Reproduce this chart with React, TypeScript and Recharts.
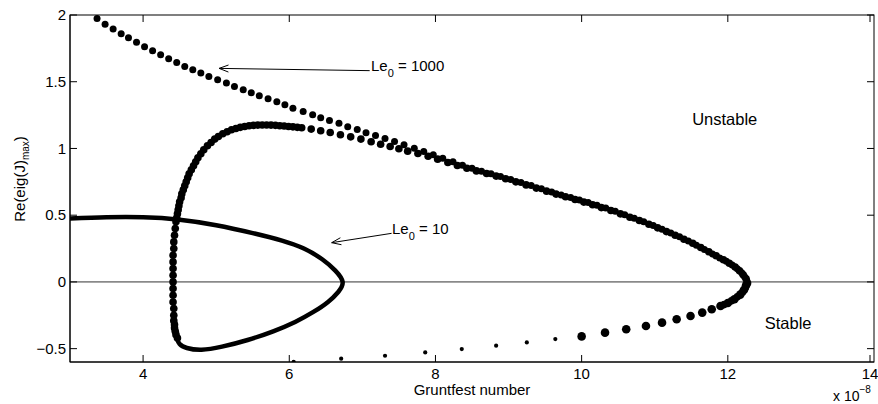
import React from 'react';
import { ComposedChart, Scatter, Line, XAxis, YAxis, ReferenceLine } from 'recharts';

const FONT = '"Liberation Sans", Arial, Helvetica, sans-serif';

// axis ticks (Gruntfest number is in units of 1e-8)
const xTicks = [4, 6, 8, 10, 12, 14];
const yTicks = [-0.5, 0, 0.5, 1, 1.5, 2];

// Le0 = 10, drawn as a solid curve
const le10Curve = [
  { x: 3.0, y: 0.475 }, { x: 3.5, y: 0.484 }, { x: 4.0, y: 0.484 }, { x: 4.5, y: 0.466 },
  { x: 5.0, y: 0.425 }, { x: 5.5, y: 0.366 }, { x: 5.9, y: 0.31 }, { x: 6.2, y: 0.25 },
  { x: 6.45, y: 0.17 }, { x: 6.63, y: 0.085 }, { x: 6.73, y: 0 }, { x: 6.67, y: -0.075 },
  { x: 6.53, y: -0.15 }, { x: 6.33, y: -0.225 }, { x: 6.08, y: -0.3 }, { x: 5.78, y: -0.37 },
  { x: 5.43, y: -0.435 }, { x: 5.08, y: -0.485 }, { x: 4.8, y: -0.508 }, { x: 4.6, y: -0.495 },
  { x: 4.5, y: -0.465 }, { x: 4.46, y: -0.42 },
];

// Le0 = 1000, upper branch (to the turning point)
const le1000Upper = [
  { x: 3.37, y: 1.973 }, { x: 3.48, y: 1.93 }, { x: 3.59, y: 1.895 }, { x: 3.7, y: 1.86 },
  { x: 3.8, y: 1.83 }, { x: 3.91, y: 1.795 }, { x: 4.02, y: 1.763 }, { x: 4.13, y: 1.733 },
  { x: 4.24, y: 1.703 }, { x: 4.35, y: 1.673 }, { x: 4.46, y: 1.645 }, { x: 4.57, y: 1.615 },
  { x: 4.68, y: 1.59 }, { x: 4.79, y: 1.565 }, { x: 4.9, y: 1.54 }, { x: 5.02, y: 1.515 },
  { x: 5.14, y: 1.49 }, { x: 5.25, y: 1.465 }, { x: 5.37, y: 1.44 }, { x: 5.48, y: 1.418 },
  { x: 5.59, y: 1.395 }, { x: 5.71, y: 1.373 }, { x: 5.83, y: 1.35 }, { x: 5.94, y: 1.328 },
  { x: 6.05, y: 1.302 }, { x: 6.19, y: 1.277 }, { x: 6.32, y: 1.253 }, { x: 6.43, y: 1.23 },
  { x: 6.55, y: 1.21 }, { x: 6.68, y: 1.188 }, { x: 6.8, y: 1.163 }, { x: 6.93, y: 1.143 },
  { x: 7.05, y: 1.118 }, { x: 7.18, y: 1.098 }, { x: 7.31, y: 1.075 }, { x: 7.44, y: 1.052 },
  { x: 7.57, y: 1.028 }, { x: 7.71, y: 1.002 }, { x: 7.84, y: 0.977 }, { x: 7.97, y: 0.953 },
  { x: 8.1, y: 0.927 }, { x: 8.24, y: 0.9 }, { x: 8.37, y: 0.875 }, { x: 8.5, y: 0.852 },
  { x: 8.63, y: 0.83 }, { x: 8.76, y: 0.81 }, { x: 8.89, y: 0.79 }, { x: 9.03, y: 0.768 },
  { x: 9.17, y: 0.745 }, { x: 9.31, y: 0.722 }, { x: 9.45, y: 0.698 }, { x: 9.59, y: 0.673 },
  { x: 9.72, y: 0.652 }, { x: 9.85, y: 0.632 }, { x: 9.97, y: 0.613 }, { x: 10.09, y: 0.595 },
  { x: 10.21, y: 0.575 }, { x: 10.33, y: 0.553 }, { x: 10.46, y: 0.53 }, { x: 10.59, y: 0.503 },
  { x: 10.72, y: 0.477 }, { x: 10.85, y: 0.45 }, { x: 10.98, y: 0.422 }, { x: 11.1, y: 0.395 },
  { x: 11.22, y: 0.367 }, { x: 11.34, y: 0.338 }, { x: 11.46, y: 0.307 }, { x: 11.57, y: 0.275 },
  { x: 11.68, y: 0.243 }, { x: 11.79, y: 0.21 }, { x: 11.89, y: 0.18 }, { x: 11.98, y: 0.155 },
  { x: 12.06, y: 0.127 }, { x: 12.13, y: 0.098 }, { x: 12.19, y: 0.068 }, { x: 12.23, y: 0.038 },
  { x: 12.26, y: 0.008 },
];

// Le0 = 1000, lower branch near the turning point (large markers)
const le1000LowerNear = [
  { x: 12.25, y: -0.025 }, { x: 12.22, y: -0.06 }, { x: 12.17, y: -0.095 }, { x: 12.09, y: -0.13 },
  { x: 12.0, y: -0.158 }, { x: 11.9, y: -0.18 }, { x: 11.78, y: -0.205 }, { x: 11.65, y: -0.23 },
  { x: 11.49, y: -0.255 }, { x: 11.3, y: -0.28 }, { x: 11.1, y: -0.305 }, { x: 10.88, y: -0.33 },
  { x: 10.61, y: -0.355 }, { x: 10.32, y: -0.38 }, { x: 10.0, y: -0.408 },
];

// Le0 = 1000, lower branch far from the turning point (small markers)
const le1000LowerFar = [
  { x: 9.64, y: -0.428 }, { x: 9.25, y: -0.453 }, { x: 8.83, y: -0.478 }, { x: 8.36, y: -0.503 },
  { x: 7.86, y: -0.528 }, { x: 7.31, y: -0.553 }, { x: 6.71, y: -0.575 }, { x: 6.06, y: -0.598 },
];

// intermediate loop branch
const loopBranch = [
  { x: 4.47, y: -0.42 }, { x: 4.45, y: -0.395 }, { x: 4.44, y: -0.37 }, { x: 4.43, y: -0.345 },
  { x: 4.43, y: -0.32 }, { x: 4.42, y: -0.29 }, { x: 4.42, y: -0.25 }, { x: 4.42, y: -0.2 },
  { x: 4.41, y: -0.15 }, { x: 4.41, y: -0.1 }, { x: 4.41, y: -0.05 }, { x: 4.41, y: 0 },
  { x: 4.41, y: 0.05 }, { x: 4.41, y: 0.1 }, { x: 4.41, y: 0.15 }, { x: 4.41, y: 0.2 },
  { x: 4.42, y: 0.25 }, { x: 4.42, y: 0.3 }, { x: 4.43, y: 0.35 }, { x: 4.44, y: 0.4 },
  { x: 4.45, y: 0.45 }, { x: 4.46, y: 0.48 }, { x: 4.47, y: 0.51 }, { x: 4.48, y: 0.54 },
  { x: 4.49, y: 0.57 }, { x: 4.5, y: 0.6 }, { x: 4.52, y: 0.63 }, { x: 4.53, y: 0.66 },
  { x: 4.55, y: 0.69 }, { x: 4.57, y: 0.72 }, { x: 4.59, y: 0.75 }, { x: 4.61, y: 0.78 },
  { x: 4.63, y: 0.81 }, { x: 4.66, y: 0.84 }, { x: 4.69, y: 0.87 }, { x: 4.72, y: 0.9 },
  { x: 4.75, y: 0.93 }, { x: 4.79, y: 0.96 }, { x: 4.83, y: 0.99 }, { x: 4.88, y: 1.02 },
  { x: 4.93, y: 1.045 }, { x: 4.98, y: 1.07 }, { x: 5.03, y: 1.09 }, { x: 5.09, y: 1.11 },
  { x: 5.15, y: 1.125 }, { x: 5.21, y: 1.14 }, { x: 5.27, y: 1.15 }, { x: 5.33, y: 1.158 },
  { x: 5.39, y: 1.165 }, { x: 5.45, y: 1.17 }, { x: 5.51, y: 1.173 }, { x: 5.57, y: 1.175 },
  { x: 5.63, y: 1.176 }, { x: 5.69, y: 1.176 }, { x: 5.75, y: 1.175 }, { x: 5.81, y: 1.173 },
  { x: 5.87, y: 1.17 }, { x: 5.93, y: 1.168 }, { x: 5.99, y: 1.165 }, { x: 6.05, y: 1.162 },
  { x: 6.11, y: 1.158 }, { x: 6.17, y: 1.155 }, { x: 6.3, y: 1.145 }, { x: 6.43, y: 1.133 },
  { x: 6.56, y: 1.12 }, { x: 6.7, y: 1.103 }, { x: 6.84, y: 1.087 }, { x: 6.98, y: 1.07 },
  { x: 7.12, y: 1.05 }, { x: 7.25, y: 1.032 }, { x: 7.38, y: 1.015 }, { x: 7.5, y: 0.998 },
  { x: 7.62, y: 0.98 }, { x: 7.76, y: 0.962 }, { x: 7.9, y: 0.942 }, { x: 8.03, y: 0.92 },
  { x: 8.17, y: 0.895 }, { x: 8.3, y: 0.872 }, { x: 8.43, y: 0.852 }, { x: 8.56, y: 0.832 },
  { x: 8.7, y: 0.812 }, { x: 8.83, y: 0.793 }, { x: 8.96, y: 0.773 }, { x: 9.1, y: 0.75 },
  { x: 9.24, y: 0.727 }, { x: 9.38, y: 0.703 }, { x: 9.52, y: 0.68 }, { x: 9.65, y: 0.658 },
  { x: 9.78, y: 0.638 }, { x: 9.91, y: 0.618 }, { x: 10.03, y: 0.598 }, { x: 10.15, y: 0.578 },
  { x: 10.27, y: 0.557 }, { x: 10.4, y: 0.535 }, { x: 10.53, y: 0.51 }, { x: 10.66, y: 0.485 },
  { x: 10.79, y: 0.46 }, { x: 10.92, y: 0.432 }, { x: 11.04, y: 0.405 }, { x: 11.16, y: 0.377 },
  { x: 11.28, y: 0.35 }, { x: 11.4, y: 0.32 }, { x: 11.52, y: 0.29 }, { x: 11.63, y: 0.258 },
  { x: 11.74, y: 0.226 }, { x: 11.84, y: 0.196 }, { x: 11.94, y: 0.166 }, { x: 12.02, y: 0.14 },
  { x: 12.1, y: 0.112 }, { x: 12.16, y: 0.083 }, { x: 12.21, y: 0.053 }, { x: 12.25, y: 0.023 },
  { x: 12.27, y: -0.008 }, { x: 12.24, y: -0.043 }, { x: 12.2, y: -0.078 }, { x: 12.13, y: -0.112 },
  { x: 12.05, y: -0.142 }, { x: 11.95, y: -0.17 },
];

// annotation arrows: tip first, then tail
const arrow1000 = [{ x: 5.04, y: 1.6 }, { x: 7.1, y: 1.583 }];
const arrow10 = [{ x: 6.58, y: 0.294 }, { x: 7.4, y: 0.364 }];

// plot box in pixels (frame and mirrored inward ticks)
const PLOT_LEFT = 70;
const PLOT_TOP = 15;
const PLOT_RIGHT = 874;
const PLOT_BOTTOM = 362;
const TICK = 7;

const dot = (r: number) => (p: any) => <circle cx={p.cx} cy={p.cy} r={r} fill="#000" />;

const fmt = (v: number) => (v < 0 ? `\u2212${Math.abs(v)}` : `${v}`);

// bottom tick: inward tick at bottom and top, label below
const XTick = (p: any) => {
  const { x, y, payload } = p;
  return (
    <g>
      <line x1={x} y1={y} x2={x} y2={y - TICK} stroke="#000" strokeWidth={1} />
      <line x1={x} y1={PLOT_TOP} x2={x} y2={PLOT_TOP + TICK} stroke="#000" strokeWidth={1} />
      <text x={x} y={y + 16.5} textAnchor="middle" fontSize={15} fontFamily={FONT} fill="#000">
        {fmt(payload.value)}
      </text>
    </g>
  );
};

// left tick: inward tick at left and right, label to the left
const YTick = (p: any) => {
  const { x, y, payload } = p;
  return (
    <g>
      <line x1={x} y1={y} x2={x + TICK} y2={y} stroke="#000" strokeWidth={1} />
      <line x1={PLOT_RIGHT} y1={y} x2={PLOT_RIGHT - TICK} y2={y} stroke="#000" strokeWidth={1} />
      <text x={x - 4} y={y + 5.3} textAnchor="end" fontSize={15} fontFamily={FONT} fill="#000">
        {fmt(payload.value)}
      </text>
    </g>
  );
};

const Arrow = (p: any) => {
  const { x1, y1, x2, y2 } = p;
  const ang = Math.atan2(y2 - y1, x2 - x1);
  const len = 10;
  const spread = 0.36;
  const a = `${x1 + len * Math.cos(ang + spread)},${y1 + len * Math.sin(ang + spread)}`;
  const b = `${x1 + len * Math.cos(ang - spread)},${y1 + len * Math.sin(ang - spread)}`;
  return (
    <g>
      <line x1={x1} y1={y1} x2={x2} y2={y2} stroke="#000" strokeWidth={1} />
      <polyline points={`${a} ${x1},${y1} ${b}`} fill="none" stroke="#000" strokeWidth={1} />
    </g>
  );
};

export default function App() {
  return (
    <div style={{ position: 'absolute', left: 0, top: 0, background: '#fff' }}>
      <ComposedChart
        width={878}
        height={404}
        margin={{ top: PLOT_TOP, right: 878 - PLOT_RIGHT, bottom: 0, left: 0 }}
        style={{ fontFamily: FONT }}
      >
        <XAxis
          dataKey="x"
          type="number"
          domain={[3, 14]}
          ticks={xTicks}
          allowDataOverflow
          height={404 - PLOT_BOTTOM}
          tickSize={0}
          tickMargin={0}
          tickLine={false}
          axisLine={{ stroke: '#000' }}
          tick={XTick}
        />
        <YAxis
          dataKey="y"
          type="number"
          domain={[-0.6, 2]}
          ticks={yTicks}
          allowDataOverflow
          width={PLOT_LEFT}
          tickSize={0}
          tickMargin={0}
          tickLine={false}
          axisLine={{ stroke: '#000' }}
          tick={YTick}
        />
        <rect
          x={PLOT_LEFT}
          y={PLOT_TOP}
          width={PLOT_RIGHT - PLOT_LEFT}
          height={PLOT_BOTTOM - PLOT_TOP}
          fill="none"
          stroke="#000"
          strokeWidth={1}
        />
        <ReferenceLine y={0} stroke="#333" strokeWidth={1} />
        <Line
          data={le10Curve}
          dataKey="y"
          type="natural"
          stroke="#000"
          strokeWidth={4.5}
          dot={false}
          activeDot={false}
          isAnimationActive={false}
        />
        <Scatter data={loopBranch} shape={dot(3.8)} isAnimationActive={false} />
        <Scatter data={le1000Upper} shape={dot(3.5)} isAnimationActive={false} />
        <Scatter data={le1000LowerNear} shape={dot(4.3)} isAnimationActive={false} />
        <Scatter data={le1000LowerFar} shape={dot(2.1)} isAnimationActive={false} />
        <ReferenceLine segment={arrow1000} shape={Arrow} ifOverflow="visible" />
        <ReferenceLine segment={arrow10} shape={Arrow} ifOverflow="visible" />

        <text x={371} y={70.7} fontSize={15} fontFamily={FONT} fill="#000">
          Le<tspan fontSize={11} dy={6.5}>0</tspan>
          <tspan dy={-6.5}> = 1000</tspan>
        </text>
        <text x={392} y={233.5} fontSize={15} fontFamily={FONT} fill="#000">
          Le<tspan fontSize={11} dy={6.5}>0</tspan>
          <tspan dy={-6.5}> = 10</tspan>
        </text>
        <text x={724.7} y={125} fontSize={16.5} fontFamily={FONT} fill="#000" textAnchor="middle">
          Unstable
        </text>
        <text x={764.7} y={329.3} fontSize={16.5} fontFamily={FONT} fill="#000">
          Stable
        </text>
        <text x={472} y={394.5} fontSize={15} fontFamily={FONT} fill="#000" textAnchor="middle">
          Gruntfest number
        </text>
        <text x={833} y={401} fontSize={14} fontFamily={FONT} fill="#000">
          x 10<tspan fontSize={10} dy={-8}>{'\u22128'}</tspan>
        </text>
        <text
          x={25}
          y={179}
          fontSize={15}
          fontFamily={FONT}
          fill="#000"
          textAnchor="middle"
          transform="rotate(-90, 25, 179)"
        >
          Re(eig(J)<tspan fontSize={10} dy={4}>max</tspan>
          <tspan dy={-4}>)</tspan>
        </text>
      </ComposedChart>
    </div>
  );
}
